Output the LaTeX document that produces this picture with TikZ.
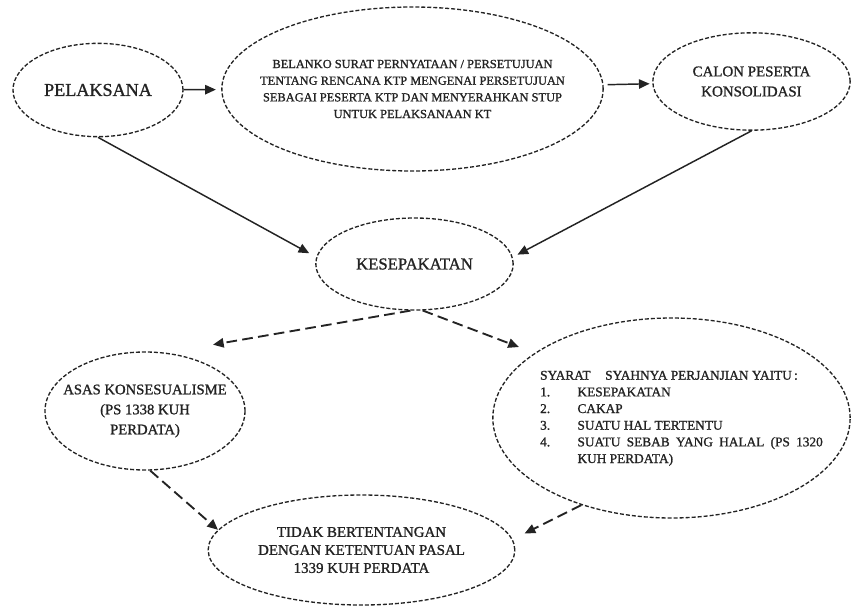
\documentclass[tikz,border=0pt]{standalone}
\usepackage{fontspec}
\setmainfont{Liberation Serif}[BoldFont={Liberation Serif}, BoldFeatures={FakeBold=1.2}]
\usetikzlibrary{arrows.meta,shapes.geometric}
\definecolor{inkGray}{RGB}{35,35,35}

\begin{document}
\begin{tikzpicture}[
  x=0.75pt, y=-0.75pt,
  oval/.style={draw=inkGray, ellipse, dash pattern=on 3pt off 1.5pt, line width=1pt, inner xsep=-60pt, inner ysep=-30pt, align=center, text=inkGray},
  arrow/.style={-{Triangle[length=8pt, width=7pt]}, line width=1.1pt, draw=inkGray},
  dasharrow/.style={arrow, dash pattern=on 8pt off 4pt, line width=1.4pt}
]
  \useasboundingbox (0,0) rectangle (851,607);

  \node[oval, minimum width=127.5pt, minimum height=70pt, font=\fontsize{13.6}{16}\selectfont\bfseries] (pelaksana) at (98,90) {PELAKSANA};
  \node[oval, minimum width=286pt, minimum height=123pt, font=\fontsize{9.3}{12.5}\selectfont\bfseries] (belanko) at (412.5,89) {BELANKO SURAT PERNYATAAN / PERSETUJUAN\\TENTANG RENCANA KTP MENGENAI PERSETUJUAN\\SEBAGAI PESERTA KTP DAN MENYERAHKAN STUP\\UNTUK PELAKSANAAN KT};
  \node[oval, minimum width=148pt, minimum height=73pt, font=\fontsize{11.2}{15}\selectfont\bfseries] (calon) at (751.5,81.5) {CALON PESERTA\\KONSOLIDASI};
  \node[oval, minimum width=148pt, minimum height=69pt, font=\fontsize{12.5}{15}\selectfont\bfseries] (kesepakatan) at (414.5,264) {KESEPAKATAN};
  \node[oval, minimum width=150pt, minimum height=88.5pt, font=\fontsize{11}{15}\selectfont\bfseries] (asas) at (145,411) {ASAS KONSESUALISME\\(PS 1338 KUH\\PERDATA)};
  \node[oval, minimum width=268pt, minimum height=150pt, align=left, font=\fontsize{10}{12.5}\selectfont\bfseries] (syarat) at (671.5,418) {\hspace*{15pt}\begin{tabular}{@{}l@{}}
    SYARAT\hspace{11pt}SYAHNYA PERJANJIAN YAITU\,:\\
    \makebox[28pt][l]{1.}KESEPAKATAN\\
    \makebox[28pt][l]{2.}CAKAP\\
    \makebox[28pt][l]{3.}SUATU HAL TERTENTU\\
    \makebox[28pt][l]{4.}\makebox[184pt][s]{SUATU SEBAB YANG HALAL (PS 1320}\\
    \hspace*{28pt}KUH PERDATA)
  \end{tabular}};
  \node[oval, minimum width=230pt, minimum height=82.5pt, font=\fontsize{11.2}{13.5}\selectfont\bfseries] (tidak) at (361.5,550) {TIDAK BERTENTANGAN\\DENGAN KETENTUAN PASAL\\1339 KUH PERDATA};

  \draw[arrow, shorten >=4pt] (pelaksana) -- (belanko);
  \draw[arrow, shorten <=3pt, shorten >=2pt] (belanko) -- (calon);
  \draw[arrow, shorten >=6pt] (pelaksana.south) -- (kesepakatan.176);
  \draw[arrow, shorten >=4pt] (calon.south) -- (kesepakatan.4);
  \draw[dasharrow] (kesepakatan.265) -- ([xshift=51pt, yshift=5pt]asas.north);
  \draw[dasharrow] (kesepakatan.280) -- ([xshift=-11pt, yshift=5pt]syarat.155);
  \draw[dasharrow] (asas.275) -- (tidak.172);
  \draw[dasharrow, shorten >=10pt] (syarat.224) -- (tidak.4);
\end{tikzpicture}
\end{document}
